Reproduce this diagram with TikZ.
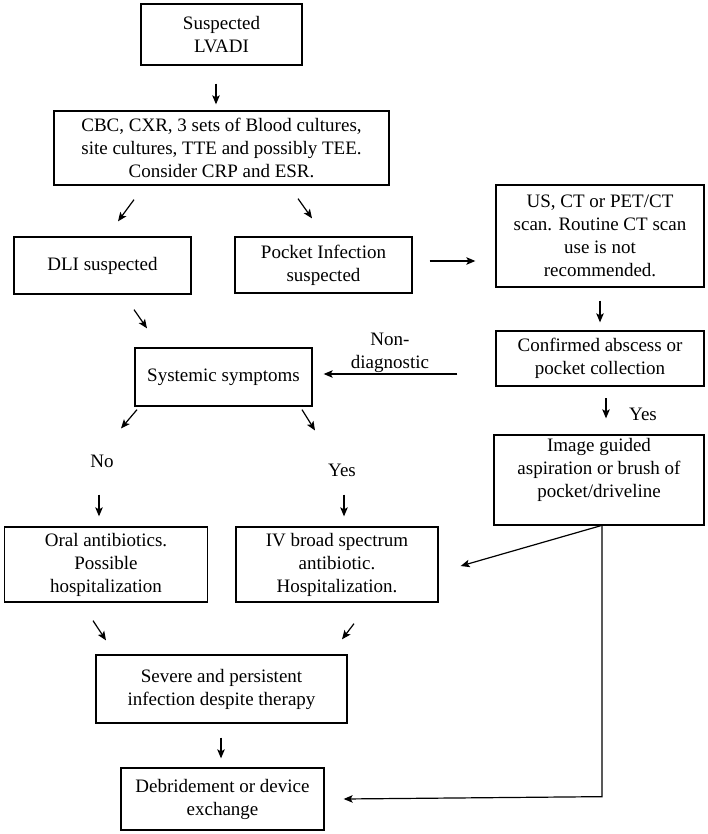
\documentclass[tikz,border=0pt]{standalone}
\usepackage{fontspec}
\setmainfont{Liberation Serif}
\usetikzlibrary{arrows.meta,calc}
\newcommand\dfont{\fontsize{19}{23}\selectfont}
\begin{document}
\begin{tikzpicture}[x=1pt,y=-1pt,
  box/.style={draw, line width=1.3pt, inner sep=0pt, align=center, font=\dfont},
  lbl/.style={inner sep=0pt, align=center, font=\dfont},
  arr/.style={line width=1.2pt, -{Stealth[length=9pt,width=7.5pt,inset=2pt]}},
  ln/.style={line width=1.2pt}]
\useasboundingbox[fill=white] (0,0) rectangle (707,834);
% boxes
\node[box, minimum width=161pt, minimum height=61pt] (lvadi) at (221.5,34.5) {Suspected\\LVADI};
\node[box, minimum width=335pt, minimum height=74pt] (tests) at (221.5,148) {CBC, CXR, 3 sets of Blood cultures,\\site cultures, TTE and possibly TEE.\\Consider CRP and ESR.};
\node[box, minimum width=177pt, minimum height=57pt] (dli) at (102.5,265.5) {DLI suspected};
\node[box, minimum width=177pt, minimum height=56pt] (pocket) at (323.5,265) {Pocket Infection\\suspected};
\node[box, minimum width=208pt, minimum height=102pt] (imaging) at (600,236) {US, CT or PET/CT\\scan. Routine CT scan\\use is not\\recommended.};
\node[box, minimum width=208pt, minimum height=55pt] (abscess) at (600,358.5) {Confirmed abscess or\\pocket collection};
\node[box, minimum width=177pt, minimum height=58pt] (systemic) at (223.5,377) {Systemic symptoms};
\node[box, minimum width=210pt, minimum height=90pt] (guided) at (599,480) {};
\node[lbl] (guidedtxt) at (599,470) {Image guided\\aspiration or brush of\\pocket/driveline};
\node[box, minimum width=203.5pt, minimum height=75pt] (oral) at (106,564.5) {Oral antibiotics.\\Possible\\hospitalization};
\node[box, minimum width=202pt, minimum height=75pt] (iv) at (337,564.5) {IV broad spectrum\\antibiotic.\\Hospitalization.};
\node[box, minimum width=251pt, minimum height=68pt] (severe) at (221.5,689) {Severe and persistent\\infection despite therapy};
\node[box, minimum width=203pt, minimum height=62pt] (debride) at (222.5,799) {Debridement or device\\exchange};
% labels
\node[lbl] (nondiag) at (390,353) {Non-\\diagnostic};
\node[lbl] (yesr) at (643,414) {Yes};
\node[lbl] (no) at (102,461) {No};
\node[lbl] (yes) at (342,470) {Yes};
% arrows
\draw[arr] ($(lvadi.south)+(-5.5,18)$) -- ($(tests.north)+(-5.5,-6)$);
\draw[arr] ($(tests.south)+(-87.5,14)$) -- ($(dli.north)+(15.5,-15)$);
\draw[arr] ($(tests.south)+(76.5,13)$) -- ($(pocket.north)+(-11.5,-18)$);
\draw[arr] ($(pocket.east)+(17,-4)$) -- ($(imaging.west)+(-20,25)$);
\draw[arr] ($(imaging.south)+(0,13)$) -- ($(abscess.north)+(0,-8)$);
\draw[arr] ($(abscess.west)+(-38,15.5)$) -- ($(systemic.east)+(11,-3)$);
\draw[arr] ($(dli.south)+(31.5,15)$) -- ($(systemic.north)+(-76.5,-19)$);
\draw[arr] ($(systemic.south)+(-86.5,3)$) -- ($(no.north)+(19,-26)$);
\draw[arr] ($(systemic.south)+(78.5,3)$) -- ($(yes.north)+(-27,-33)$);
\draw[arr] ($(no.south)+(-3,27)$) -- ($(oral.north)+(-7,-10)$);
\draw[arr] ($(yes.south)+(2,18)$) -- ($(iv.north)+(7,-10)$);
\draw[arr] ($(abscess.south)+(6,11.5)$) -- ($(guided.north)+(7,-16)$);
\draw[arr] ($(guided.south)+(2,0)$) -- ($(iv.east)+(22,1.5)$);
\draw[arr] ($(guided.south)+(3,0)$) -- ($(guided.south)+(3,271)$) -- ($(debride.east)+(19,0)$);
\draw[arr] ($(oral.south)+(-13,18)$) -- ($(severe.north)+(-115.5,-14)$);
\draw[arr] ($(iv.south)+(17,21)$) -- ($(severe.north)+(120.5,-15)$);
\draw[arr] ($(severe.south)+(-0.5,14)$) -- ($(debride.north)+(-1.5,-9)$);
\end{tikzpicture}
\end{document}
